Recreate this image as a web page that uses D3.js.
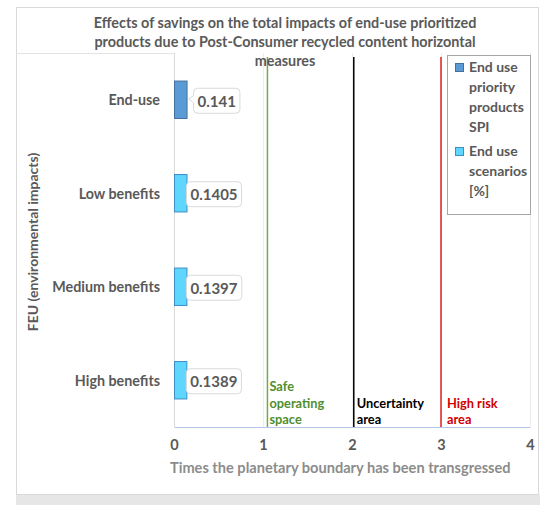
<!DOCTYPE html>
<html>
<head>
<meta charset="utf-8">
<script src="https://cdn.jsdelivr.net/npm/d3@7"></script>
<style>
  html, body { margin: 0; padding: 0; background: #ffffff; }
  svg { display: block; }
  text { font-family: Lato, "Open Sans", sans-serif; font-weight: bold; }
</style>
</head>
<body>
<svg id="chart" width="540" height="505"></svg>
<script>
// Categories (top to bottom) and their FEU values
const categories = ["End-use", "Low benefits", "Medium benefits", "High benefits"];
const values = [0.141, 0.1405, 0.1397, 0.1389];
const valueLabels = ["0.141", "0.1405", "0.1397", "0.1389"];
const seriesOf = ["spi", "scen", "scen", "scen"];
const legendItems = [
  { key: "spi", lines: ["End use", "priority", "products", "SPI"] },
  { key: "scen", lines: ["End use", "scenarios", "[%]"] }
];
const xTicks = [0, 1, 2, 3, 4];
// Threshold lines and their area labels
const thresholds = [1.05, 2.02, 3.0];
const thresholdLabels = [["Safe", "operating", "space"], ["Uncertainty", "area"], ["High risk", "area"]];
const titleLines = [
  "Effects of savings on the total impacts of end-use prioritized",
  "products due to Post-Consumer recycled content horizontal",
  "measures"
];

const fill = { spi: "#5b9bd5", scen: "#5fd6ff" };
const edge = { spi: "#41719c", scen: "#3e8ec4" };
const thresholdColors = ["#70ad47", "#000000", "#e02020"];
const thresholdText = ["#4f8f2f", "#000000", "#d00000"];
const labelOffsets = [2, 3, 6];

const svg = d3.select("#chart");

// outer chart frame and grey strip below it
svg.append("rect").attr("x", 16.5).attr("y", 7.5).attr("width", 522).attr("height", 487)
  .attr("fill", "#fff").attr("stroke", "#d9d9d9");
svg.append("rect").attr("x", 16).attr("y", 495).attr("width", 524).attr("height", 10).attr("fill", "#e6e6e6");

const plot = { left: 174, right: 530, top: 53, bottom: 427 };
const x = d3.scaleLinear().domain([0, 4]).range([plot.left, plot.right]);
const y = d3.scaleBand().domain(categories).range([plot.top, plot.bottom])
  .paddingInner(0.6).paddingOuter(0.3);

// faint gridlines
svg.append("g").selectAll("line").data(xTicks.slice(1)).join("line")
  .attr("x1", d => x(d) + 0.5).attr("x2", d => x(d) + 0.5)
  .attr("y1", plot.top).attr("y2", plot.bottom)
  .attr("stroke", "#ececec");

// category axis line and top edge left of the plot
svg.append("line").attr("x1", plot.left + 0.5).attr("x2", plot.left + 0.5)
  .attr("y1", plot.top).attr("y2", plot.bottom).attr("stroke", "#d9d9d9");
svg.append("line").attr("x1", 16).attr("x2", plot.left)
  .attr("y1", plot.top + 0.5).attr("y2", plot.top + 0.5).attr("stroke", "#e3e3e3");

// x axis
const xAxis = d3.axisBottom(x).tickValues(xTicks).tickSize(0).tickPadding(13).tickFormat(d3.format("d"));
const gx = svg.append("g").attr("transform", `translate(0,${plot.bottom})`).call(xAxis);
gx.select(".domain").attr("stroke", "#b4c7e7").attr("stroke-width", 1.2);
gx.selectAll("text").attr("fill", "#595959").style("font-size", "14.5px")
  .style("font-family", "Lato, sans-serif").style("font-weight", "bold");

// category labels
svg.append("g").selectAll("text").data(categories).join("text")
  .attr("x", 160).attr("y", d => y(d) + y.bandwidth() / 2)
  .attr("text-anchor", "end").attr("dominant-baseline", "central")
  .attr("fill", "#595959").style("font-size", "14.3px").text(d => d);

// threshold lines
svg.append("g").selectAll("line").data(thresholds).join("line")
  .attr("x1", d => x(d)).attr("x2", d => x(d))
  .attr("y1", plot.top + 4).attr("y2", plot.bottom)
  .attr("stroke", (d, i) => thresholdColors[i]).attr("stroke-width", 1.5);

// threshold area labels
thresholds.forEach((t, i) => {
  const lines = thresholdLabels[i];
  const baseY = plot.bottom - 3 - (lines.length - 1) * 16.5;
  svg.append("text").attr("fill", thresholdText[i])
    .style("font-size", "12.8px")
    .selectAll("tspan").data(lines).join("tspan")
    .attr("x", x(t) + labelOffsets[i]).attr("y", (d, j) => baseY + j * 16.5).text(d => d);
});

// bars
svg.append("g").selectAll("rect").data(values).join("rect")
  .attr("x", x(0) + 0.5)
  .attr("y", (d, i) => y(categories[i]))
  .attr("width", d => x(d) - x(0))
  .attr("height", y.bandwidth())
  .attr("fill", (d, i) => fill[seriesOf[i]])
  .attr("stroke", (d, i) => edge[seriesOf[i]]).attr("stroke-width", 1);

// value callouts
values.forEach((v, i) => {
  const cy = y(categories[i]) + y.bandwidth() / 2;
  const gap = i === 0 ? 7 : 0;
  const bx = x(v) + gap;
  const g = svg.append("g");
  const t = g.append("text").attr("x", bx + 4).attr("y", cy + 1)
    .attr("dominant-baseline", "central").attr("fill", "#595959")
    .style("font-size", "15px").text(valueLabels[i]);
  const w = t.node().getBBox().width + 8;
  const h = 25, top = cy - h / 2 + 1, r = 4;
  let p;
  if (i === 0) {
    // rounded box with a small pointer toward the bar
    p = `M${bx + r},${top} H${bx + w - r} Q${bx + w},${top} ${bx + w},${top + r}
         V${top + h - r} Q${bx + w},${top + h} ${bx + w - r},${top + h}
         H${bx + r} Q${bx},${top + h} ${bx},${top + h - r}
         V${cy + 3} L${bx - 5},${cy - 1} L${bx},${cy - 4}
         V${top + r} Q${bx},${top} ${bx + r},${top} Z`;
  } else {
    p = `M${bx + r},${top} H${bx + w - r} Q${bx + w},${top} ${bx + w},${top + r}
         V${top + h - r} Q${bx + w},${top + h} ${bx + w - r},${top + h}
         H${bx + r} Q${bx},${top + h} ${bx},${top + h - r}
         V${top + r} Q${bx},${top} ${bx + r},${top} Z`;
  }
  g.insert("path", "text").attr("d", p).attr("fill", "#fff").attr("stroke", "#d9d9d9");
});

// title
svg.append("text").attr("fill", "#595959").attr("text-anchor", "middle")
  .style("font-size", "14.4px")
  .selectAll("tspan").data(titleLines).join("tspan")
  .attr("x", 285).attr("y", (d, i) => 28 + i * 19).text(d => d);

// y axis title
svg.append("text").attr("transform", "translate(38,242) rotate(-90)")
  .attr("text-anchor", "middle").attr("fill", "#595959").style("font-size", "14px")
  .text("FEU (environmental impacts)");

// x axis title
svg.append("text").attr("x", 170).attr("y", 473).attr("fill", "#8c8c8c")
  .style("font-size", "14.6px").text("Times the planetary boundary has been transgressed");

// legend
const lg = svg.append("g");
lg.append("rect").attr("x", 447.5).attr("y", 55.5).attr("width", 83).attr("height", 159)
  .attr("fill", "#fff").attr("stroke", "#a6a6a6");
let ly = 71;
legendItems.forEach(item => {
  lg.append("rect").attr("x", 455.5).attr("y", ly - 7.5).attr("width", 8).attr("height", 8)
    .attr("fill", fill[item.key]).attr("stroke", edge[item.key]);
  lg.append("text").attr("fill", "#595959").style("font-size", "14px")
    .selectAll("tspan").data(item.lines).join("tspan")
    .attr("x", 469).attr("y", (d, j) => ly + 1 + j * 20).text(d => d);
  ly += item.lines.length * 20 + 4;
});
</script>
</body>
</html>
